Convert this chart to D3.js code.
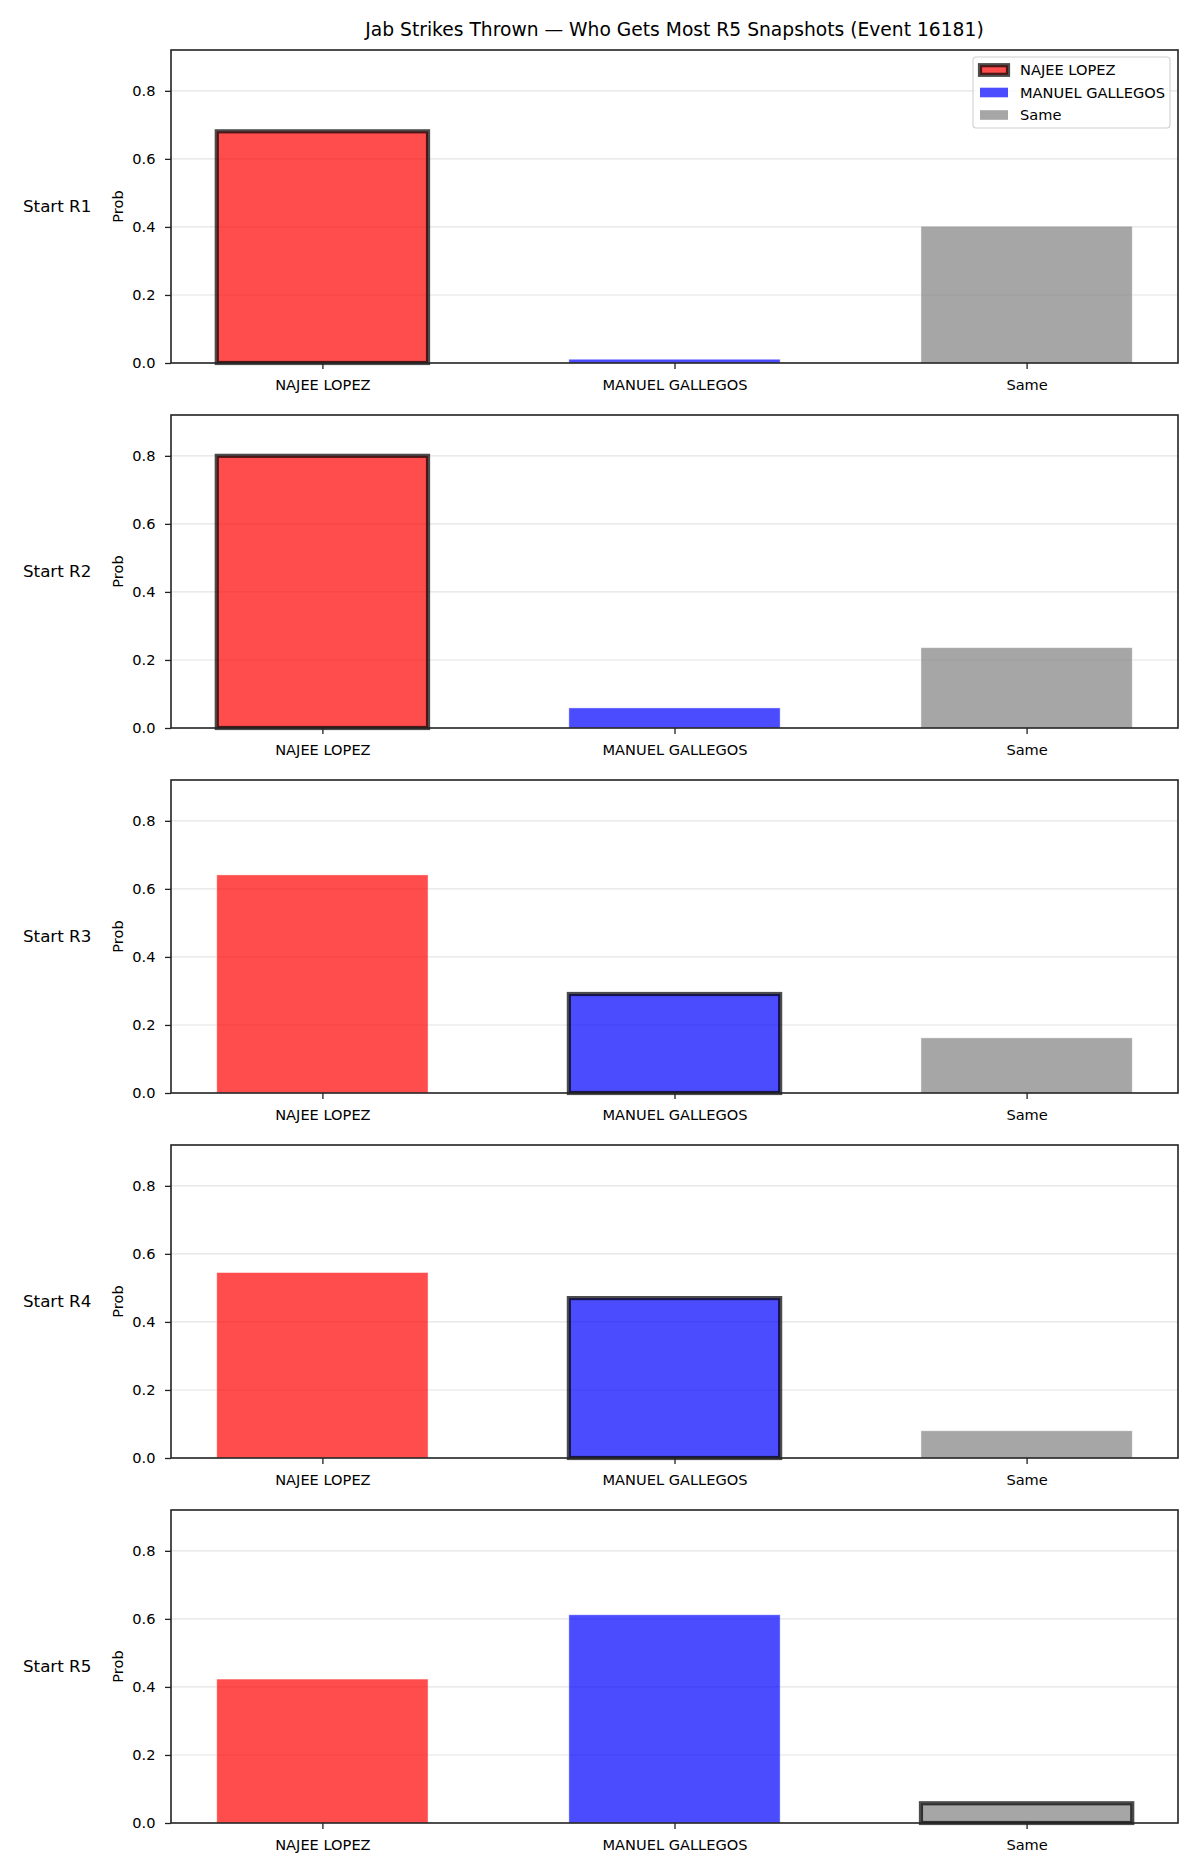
<!DOCTYPE html>
<html>
<head>
<meta charset="utf-8">
<script src="https://cdn.jsdelivr.net/npm/d3@7"></script>
<style>
  body { margin: 0; background: #fff; }
  text { font-family: "DejaVu Sans", sans-serif; fill: #000; }
</style>
</head>
<body>
<script>
// who gets most jab strikes, snapshot taken at the start of each round
var title = "Jab Strikes Thrown \u2014 Who Gets Most R5 Snapshots (Event 16181)";
var outcomes = ["NAJEE LOPEZ", "MANUEL GALLEGOS", "Same"];
var rounds = ["Start R1", "Start R2", "Start R3", "Start R4", "Start R5"];
var najeeProb = [0.681, 0.80, 0.641, 0.545, 0.423];
var manuelProb = [0.011, 0.059, 0.291, 0.470, 0.612];
var sameProb = [0.402, 0.236, 0.162, 0.080, 0.058];
var pickedOutcome = [0, 0, 1, 1, 2];   // bar drawn with the heavy edge
var yTicks = [0, 0.2, 0.4, 0.6, 0.8];
var colors = ["red", "blue", "gray"];

var width = 1200, height = 1875;
var left = 171, plotW = 1007, plotH = 313, firstTop = 50, step = 365;
var barWidth = 0.6;
var tickFont = "14.6px";

var svg = d3.select("body").append("svg")
  .attr("width", width)
  .attr("height", height);

svg.append("text")
  .attr("x", left + plotW / 2)
  .attr("y", 36)
  .attr("text-anchor", "middle")
  .style("font-size", "18.7px")
  .text(title);

var xScale = d3.scaleLinear()
  .domain([-0.43, 2.43])
  .range([0, plotW]);

var yScale = d3.scaleLinear()
  .domain([0, 0.92])
  .range([plotH, 0]);

rounds.forEach(function(round, r) {
  var values = [najeeProb[r], manuelProb[r], sameProb[r]];
  var g = svg.append("g")
    .attr("transform", "translate(" + left + "," + (firstTop + r * step) + ")");

  // grid
  g.append("g").selectAll("line")
    .data(yTicks.slice(1))
    .enter().append("line")
    .attr("x1", 0).attr("x2", plotW)
    .attr("y1", function(d) { return yScale(d); })
    .attr("y2", function(d) { return yScale(d); })
    .attr("stroke", "#e3e3e3")
    .attr("stroke-width", 1.1);

  // bars
  g.append("g").selectAll("rect")
    .data(values)
    .enter().append("rect")
    .each(function(d, i) {
      var picked = i === pickedOutcome[r];
      d3.select(this)
        .attr("x", xScale(i - barWidth / 2))
        .attr("y", yScale(d))
        .attr("width", xScale(barWidth) - xScale(0))
        .attr("height", plotH - yScale(d))
        .attr("fill", colors[i])
        .attr("fill-opacity", 0.7)
        .attr("stroke", picked ? "black" : "white")
        .attr("stroke-opacity", picked ? 0.7 : 0.5)
        .attr("stroke-width", picked ? 4.2 : 0.8);
    });

  var yAxis = d3.axisLeft(yScale)
    .tickValues(yTicks)
    .tickFormat(d3.format(".1f"))
    .tickSizeInner(6).tickSizeOuter(0).tickPadding(9.5);
  var yAxisNodes = g.append("g").call(yAxis);
  styleAxisNodes(yAxisNodes);

  var xAxis = d3.axisBottom(xScale)
    .tickValues([0, 1, 2])
    .tickFormat(function(i) { return outcomes[i]; })
    .tickSizeInner(6).tickSizeOuter(0).tickPadding(11);
  var xAxisNodes = g.append("g")
    .attr("transform", "translate(0," + plotH + ")")
    .call(xAxis);
  styleAxisNodes(xAxisNodes);

  // frame
  g.append("rect")
    .attr("width", plotW).attr("height", plotH)
    .attr("fill", "none")
    .attr("stroke", "#222")
    .attr("stroke-width", 1.6);

  g.append("text")
    .attr("transform", "translate(-48," + plotH / 2 + ") rotate(-90)")
    .attr("text-anchor", "middle")
    .style("font-size", tickFont)
    .text("Prob");

  g.append("text")
    .attr("x", -148)
    .attr("y", plotH / 2)
    .attr("dy", "0.35em")
    .style("font-size", "16.7px")
    .text(round);

  if (r === 0) drawLegend(g);
});

function drawLegend(g) {
  var lg = g.append("g").attr("transform", "translate(" + (973 - left) + "," + (57 - firstTop) + ")");
  lg.append("rect")
    .attr("width", 197).attr("height", 71)
    .attr("rx", 3)
    .attr("fill", "white").attr("fill-opacity", 0.8)
    .attr("stroke", "#d0d0d0").attr("stroke-width", 1.1);
  outcomes.forEach(function(name, i) {
    var cy = 13 + i * 22.5;
    lg.append("rect")
      .attr("x", 7).attr("y", cy - 4.8)
      .attr("width", 28).attr("height", 9.6)
      .attr("fill", colors[i]).attr("fill-opacity", 0.7)
      .attr("stroke", i === 0 ? "black" : "none")
      .attr("stroke-opacity", 0.7)
      .attr("stroke-width", i === 0 ? 4.2 : 0);
    lg.append("text")
      .attr("x", 47).attr("y", cy)
      .attr("dy", "0.35em")
      .style("font-size", tickFont)
      .text(name);
  });
}

function styleAxisNodes(axisNodes) {
  axisNodes.selectAll(".domain").remove();
  axisNodes.selectAll(".tick line")
    .attr("stroke", "#222")
    .attr("stroke-width", 1.3);
  axisNodes.selectAll(".tick text")
    .style("font-family", "DejaVu Sans, sans-serif")
    .style("font-size", tickFont)
    .attr("fill", "#000");
}
</script>
</body>
</html>
